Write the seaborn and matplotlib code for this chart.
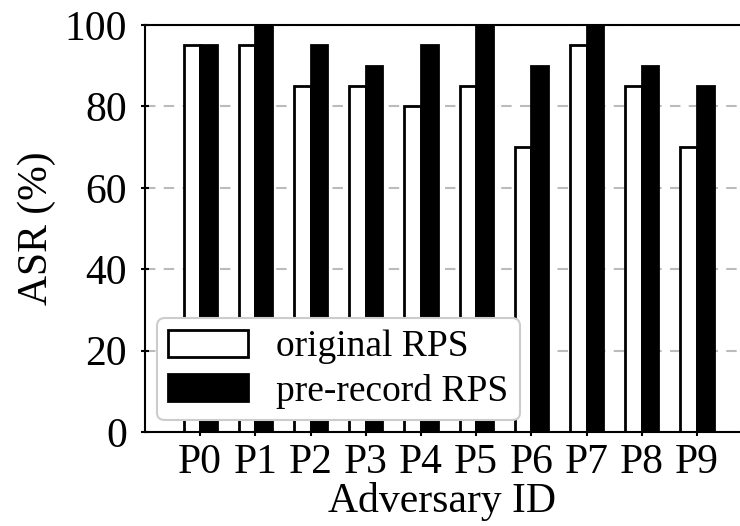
import matplotlib
matplotlib.use("Agg")
import matplotlib.pyplot as plt
import seaborn as sns
import pandas as pd

adversaries = ["P0", "P1", "P2", "P3", "P4", "P5", "P6", "P7", "P8", "P9"]
original_rps = [95, 95, 85, 85, 80, 85, 70, 95, 85, 70]
prerecord_rps = [95, 100, 95, 90, 95, 100, 90, 100, 90, 85]
series_names = ["original RPS", "pre-record RPS"]
y_ticks = [0, 20, 40, 60, 80, 100]

df = pd.DataFrame({
    "Adversary": adversaries * 2,
    "ASR": original_rps + prerecord_rps,
    "Method": [series_names[0]] * len(adversaries) + [series_names[1]] * len(adversaries),
})

sns.set_theme(style="white")
plt.rcParams["font.family"] = ["Liberation Serif", "DejaVu Serif"]
plt.rcParams["text.color"] = "black"
plt.rcParams["axes.labelcolor"] = "black"
plt.rcParams["xtick.color"] = "black"
plt.rcParams["ytick.color"] = "black"

fig = plt.figure(figsize=(7.4, 5.26), dpi=100)
ax = fig.add_axes([145 / 740, (526 - 432) / 526, 1 - 145 / 740, (432 - 25) / 526])

sns.barplot(
    data=df, x="Adversary", y="ASR", hue="Method", ax=ax,
    palette={series_names[0]: "white", series_names[1]: "black"},
    edgecolor="black", linewidth=2, width=0.6, saturation=1,
)

ax.set_ylim(0, 100)
ax.set_xlim(-1.0, 9.78)
ax.set_yticks(y_ticks)
ax.yaxis.grid(True, linestyle=(0, (5, 4)), color="#bbbbbb", linewidth=1.5)
ax.set_axisbelow(True)

for side in ["left", "bottom", "top"]:
    ax.spines[side].set_visible(True)
    ax.spines[side].set_color("black")
    ax.spines[side].set_linewidth(1.5)
ax.spines["right"].set_visible(False)

ax.tick_params(axis="both", which="major", labelsize=30, direction="inout",
               length=6, width=1.5, color="black",
               bottom=True, left=True, labelcolor="black")
ax.tick_params(axis="y", pad=10)
ax.tick_params(axis="x", pad=5)
ax.set_xlabel("Adversary ID", fontsize=30, labelpad=0, color="black")
ax.set_ylabel("ASR (%)", fontsize=30, labelpad=6, color="black")

leg = ax.legend(loc="lower left", fontsize=27, frameon=True, fancybox=True,
                handlelength=2.13, handleheight=0.75, borderpad=0.3,
                labelspacing=0.25, handletextpad=0.75, borderaxespad=0,
                bbox_to_anchor=(12 / 595, 12 / 407))
leg.get_frame().set_edgecolor("#cccccc")
leg.get_frame().set_linewidth(1.5)
leg.get_frame().set_alpha(1.0)
for h in leg.legend_handles:
    h.set_edgecolor("black")
    h.set_linewidth(2)
for t in leg.get_texts():
    t.set_color("black")

fig.savefig("out.png", dpi=100)
